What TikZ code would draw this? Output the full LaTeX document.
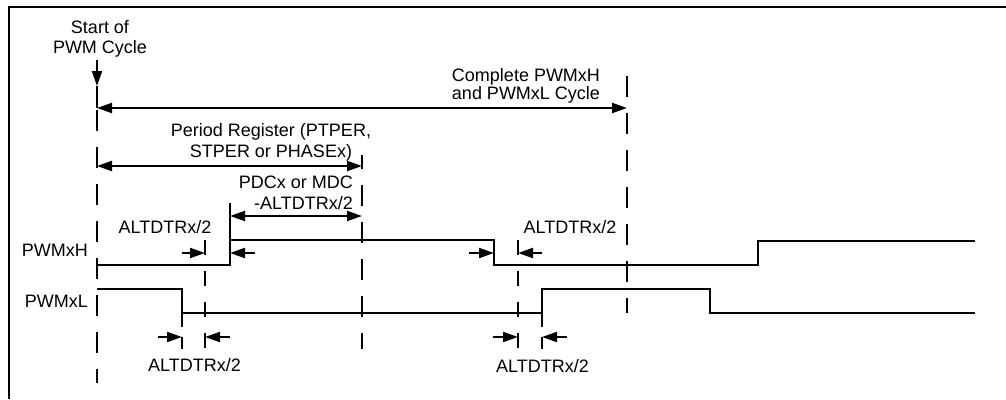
\documentclass[tikz,border=0pt]{standalone}
\usepackage{fontspec}
\setmainfont{Liberation Sans}
\usetikzlibrary{arrows.meta}
\begin{document}
\begin{tikzpicture}[x=1pt,y=-1pt,
  lbl/.style={font=\fontsize{18}{21}\selectfont, inner sep=0pt, anchor=base},
  lblr/.style={lbl, anchor=base east},
  wave/.style={line width=2.2pt, line join=miter, line cap=butt},
  frameline/.style={line width=2.2pt},
  guide/.style={line width=2pt, dash pattern=on 21pt off 16pt},
  shortguide/.style={line width=2pt, dash pattern=on 15pt off 16pt},
  extline/.style={line width=2pt, dash pattern=on 14pt off 10pt},
  solidext/.style={line width=2pt},
  dim/.style={line width=2pt, {Triangle[length=15pt,width=10pt]}-{Triangle[length=15pt,width=10pt]}},
  pointer/.style={line width=2pt, -{Triangle[length=15pt,width=10pt]}}]
\useasboundingbox (0,0) rectangle (1006,399);

% frame
\coordinate (fTL) at (9,7);
\coordinate (fTR) at (1006,7);
\coordinate (fBL) at (9,399);
\draw[frameline] (fBL) -- (fTL) -- (fTR);

% texts
\node[lbl] (startA) at (100,33) {Start of};
\node[lbl] (startB) at (100,53) {PWM Cycle};
\node[lbl] (compA) at (526,81) {Complete PWMxH};
\node[lbl] (compB) at (526,99) {and PWMxL Cycle};
\node[lbl] (perA) at (271,136) {Period Register (PTPER,};
\node[lbl] (perB) at (271,157) {STPER or PHASEx)};
\node[lblr] (pdcA) at (353,188) {PDCx or MDC};
\node[lblr] (pdcB) at (353,209) {-ALTDTRx/2};
\node[lbl] (dtTL) at (165,233) {ALTDTRx/2};
\node[lbl] (dtTR) at (570,233) {ALTDTRx/2};
\node[lbl] (dtBL) at (194.5,371) {ALTDTRx/2};
\node[lbl] (dtBR) at (542.5,372) {ALTDTRx/2};
\node[lblr] (hName) at (88,256) {PWMxH};
\node[lblr] (lName) at (88,307) {PWMxL};

% start arrow
\coordinate (sTop) at (97,60);
\coordinate (sTip) at (97,86);
\draw[pointer] (sTop) -- (sTip);
\coordinate (sTail) at (97,108);
\draw[solidext] (sTip) -- (sTail);

% vertical guides
\coordinate (g0a) at (97,110);   \coordinate (g0b) at (97,383);
\coordinate (g1a) at (627,76);   \coordinate (g1b) at (627,313);
\coordinate (g2a) at (362,155);  \coordinate (g2b) at (362,349);
\coordinate (g3a) at (205,240);  \coordinate (g3b) at (205,349);
\coordinate (g4a) at (518,240);  \coordinate (g4b) at (518,349);
\draw[guide] (g0a) -- (g0b);
\draw[guide] (g1a) -- (g1b);
\draw[guide, dash phase=7pt] (g2a) -- (g2b);
\draw[shortguide] (g3a) -- (g3b);
\draw[shortguide] (g4a) -- (g4b);

% extension lines
\coordinate (e1a) at (230,240); \coordinate (e1b) at (230,203);
\draw[solidext] (e1a) -- (e1b);
\coordinate (e2a) at (182,313); \coordinate (e2b) at (182,349);
\coordinate (e3a) at (542,313); \coordinate (e3b) at (542,349);
\draw[extline] (e2a) -- (e2b);
\draw[extline] (e3a) -- (e3b);

% dimension arrows
\coordinate (cL) at (97,108);  \coordinate (cR) at (627,108);
\coordinate (pL) at (97,166);  \coordinate (pR) at (362,166);
\coordinate (dL) at (230,216); \coordinate (dR) at (362,216);
\draw[dim] (cL) -- (cR);
\draw[dim] (pL) -- (pR);
\draw[dim] (dL) -- (dR);

% dead-time pointers
\coordinate (a1s) at (182,253); \coordinate (a1e) at (205,253);
\coordinate (a2s) at (255,253); \coordinate (a2e) at (230,253);
\coordinate (a3s) at (469,253); \coordinate (a3e) at (494,253);
\coordinate (a4s) at (542,253); \coordinate (a4e) at (518,253);
\coordinate (b1s) at (158,337); \coordinate (b1e) at (182,337);
\coordinate (b2s) at (230,337); \coordinate (b2e) at (205,337);
\coordinate (b3s) at (493,337); \coordinate (b3e) at (518,337);
\coordinate (b4s) at (567,337); \coordinate (b4e) at (542,337);
\foreach \p in {a1,a2,a3,a4,b1,b2,b3,b4}
  \draw[pointer] (\p s) -- (\p e);

% waveforms
\draw[wave] (97,265) -- (230,265) -- (230,240) -- (494,240) -- (494,265)
  -- (758,265) -- (758,241) -- (975,241);
\draw[wave] (97,289) -- (182,289) -- (182,313) -- (542,313) -- (542,289)
  -- (710,289) -- (710,313) -- (975,313);
\end{tikzpicture}
\end{document}
